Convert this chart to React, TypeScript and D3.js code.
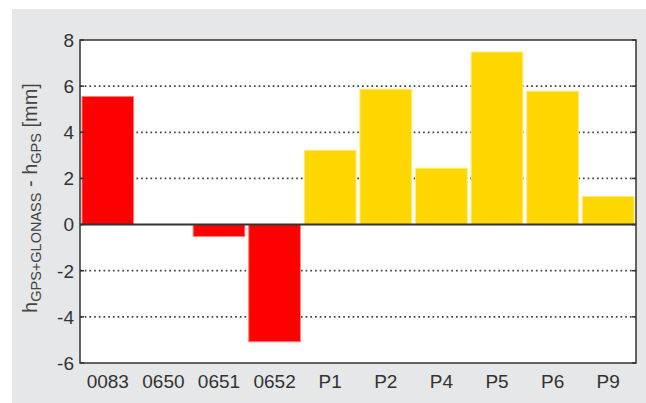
import React from "react";
import * as d3 from "d3";

const categories = ["0083", "0650", "0651", "0652", "P1", "P2", "P4", "P5", "P6", "P9"];
const values = [5.55, 0, -0.52, -5.08, 3.22, 5.87, 2.44, 7.48, 5.78, 1.22];
const groups = ["red", "red", "red", "red", "yellow", "yellow", "yellow", "yellow", "yellow", "yellow"];
const yTicks = [-6, -4, -2, 0, 2, 4, 6, 8];
const gridTicks = [-4, -2, 2, 4, 6];

const W = 646;
const H = 403;
const left = 80;
const right = 636;
const top = 40;
const bottom = 363;

export default function App() {
  const x = d3.scaleBand<string>().domain(categories).range([left, right]).paddingInner(0.07).paddingOuter(0.035);
  const y = d3.scaleLinear().domain([-6, 8]).range([bottom, top]);
  const colors: Record<string, string> = { red: "#ff0000", yellow: "#ffd700" };
  const strokes: Record<string, string> = { red: "#ff8080", yellow: "#ffe880" };
  const font = "'Liberation Sans', Arial, sans-serif";
  const titleX = 37;
  const titleY = 198;
  return (
    <svg width={W} height={H} style={{ position: "absolute", left: 0, top: 0 }}>
      <rect x={0} y={0} width={W} height={H} fill="#ffffff" />
      <rect x={12} y={9} width={W - 12} height={H - 9} fill="#e6e7e8" />
      <rect x={left} y={top} width={right - left} height={bottom - top} fill="#ffffff" />
      {gridTicks.map((t) => (
        <line key={"g" + t} x1={left} x2={right} y1={y(t)} y2={y(t)} stroke="#444" strokeWidth={1.7} strokeDasharray="1.7,3" />
      ))}
      {values.map((v, i) => {
        if (v === 0) return null;
        const y0 = y(0);
        const y1 = y(v);
        return (
          <rect
            key={categories[i]}
            x={x(categories[i])!}
            y={Math.min(y0, y1)}
            width={x.bandwidth()}
            height={Math.abs(y1 - y0)}
            fill={colors[groups[i]]}
            stroke={strokes[groups[i]]}
            strokeWidth={1}
          />
        );
      })}
      <line x1={left} x2={right} y1={y(0)} y2={y(0)} stroke="#333" strokeWidth={2} />
      {yTicks.map((t) => (
        <g key={"t" + t}>
          <line x1={left} x2={left + 4} y1={y(t)} y2={y(t)} stroke="#333" strokeWidth={1.5} />
          <line x1={right - 4} x2={right} y1={y(t)} y2={y(t)} stroke="#333" strokeWidth={1.5} />
          <text x={74} y={y(t)} dy="0.36em" textAnchor="end" fontFamily={font} fontSize={19} fill="#333">
            {t}
          </text>
        </g>
      ))}
      <rect x={left} y={top} width={right - left} height={bottom - top} fill="none" stroke="#333" strokeWidth={1.5} />
      {categories.map((c) => (
        <text key={"x" + c} x={x(c)! + x.bandwidth() / 2} y={388} textAnchor="middle" fontFamily={font} fontSize={19} fill="#333">
          {c}
        </text>
      ))}
      <text
        transform={`translate(${titleX},${titleY}) rotate(-90)`}
        textAnchor="middle"
        fontFamily={font}
        fontSize={20}
        fill="#444"
      >
        <tspan>h</tspan>
        <tspan fontSize={14.5} dy={4}>GPS+GLONASS</tspan>
        <tspan dy={-4}> - h</tspan>
        <tspan fontSize={14.5} dy={4}>GPS</tspan>
        <tspan dy={-4}> [mm]</tspan>
      </text>
    </svg>
  );
}
